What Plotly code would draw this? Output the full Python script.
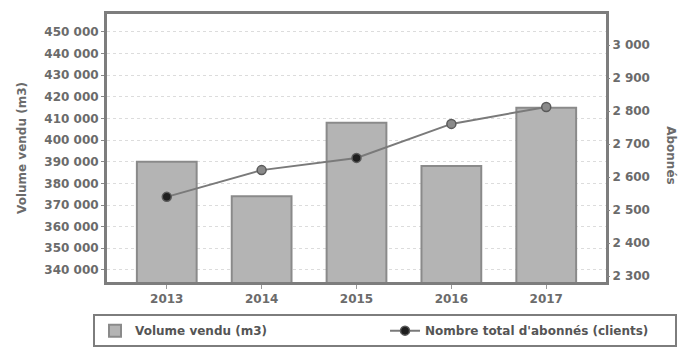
import plotly.graph_objects as go

years = ["2013", "2014", "2015", "2016", "2017"]
volume = [390000, 374000, 408000, 388000, 415000]
abonnes = [2540, 2621, 2658, 2761, 2812]
left_ticks = [340000, 350000, 360000, 370000, 380000, 390000, 400000, 410000, 420000, 430000, 440000, 450000]
right_ticks = [2300, 2400, 2500, 2600, 2700, 2800, 2900, 3000]

grey_txt = "#6b6b6b"
font_main = dict(family="DejaVu Sans", size=11, color=grey_txt)

fig = go.Figure()
fig.add_trace(go.Bar(
    x=years, y=volume, name="Volume vendu (m3)",
    marker=dict(color="#b4b4b4", line=dict(color="#8a8a8a", width=2)),
    width=0.63, yaxis="y"))
fig.add_trace(go.Scatter(
    x=years, y=abonnes, name="Nombre total d'abonnés (clients)",
    mode="lines+markers", yaxis="y2",
    line=dict(color="#7a7a7a", width=2),
    marker=dict(size=9, color=["#1e1e1e", "#8a8a8a", "#1e1e1e", "#8a8a8a", "#8a8a8a"],
                line=dict(color="#5a5a5a", width=1.5))))

fig.update_layout(
    width=682, height=349,
    margin=dict(l=107, r=76, t=14, b=67, autoexpand=False),
    paper_bgcolor="white", plot_bgcolor="white",
    separators=", ",
    font=font_main,
    showlegend=True,
    xaxis=dict(type="category", range=[-0.63, 4.63],
               showline=True, linecolor="#7d7d7d", linewidth=3, mirror=True,
               ticks="outside", ticklen=4, tickcolor="#999",
               tickfont=dict(family="DejaVu Sans", size=12, color=grey_txt, weight="bold")),
    yaxis=dict(range=[334400, 458300], tickvals=left_ticks, tickformat=",d",
               showline=True, linecolor="#7d7d7d", linewidth=3, mirror=True,
               ticks="outside", ticklen=3, tickcolor="#888",
               showgrid=True, gridcolor="#dcdcdc", griddash="dot", gridwidth=1,
               zeroline=False,
               tickfont=dict(family="DejaVu Sans", size=12, color=grey_txt, weight="bold"),
               title=dict(text="Volume vendu (m3)", standoff=16,
                          font=dict(family="DejaVu Sans", size=12, color=grey_txt, weight="bold"))),
    yaxis2=dict(range=[2282, 3094], tickvals=right_ticks, tickformat=",d",
                overlaying="y", side="right", showgrid=False, zeroline=False,
                ticks="outside", ticklen=3, tickcolor="#888",
                tickfont=dict(family="DejaVu Sans", size=12, color=grey_txt, weight="bold")),
    legend=dict(orientation="h", x=-0.028, xanchor="left",
                y=-0.12, yanchor="top",
                bordercolor="#7d7d7d", borderwidth=2, entrywidth=245, entrywidthmode="pixels",
                font=dict(family="DejaVu Sans", size=12, color="#555", weight="bold"),
                itemwidth=30),
)
fig.add_annotation(text="Abonnés", xref="paper", yref="paper", x=1.13, xanchor="center",
                   y=0.47, yanchor="middle",
                   textangle=90, showarrow=False,
                   font=dict(family="DejaVu Sans", size=12, color=grey_txt, weight="bold"))

fig.write_html("out.html")
